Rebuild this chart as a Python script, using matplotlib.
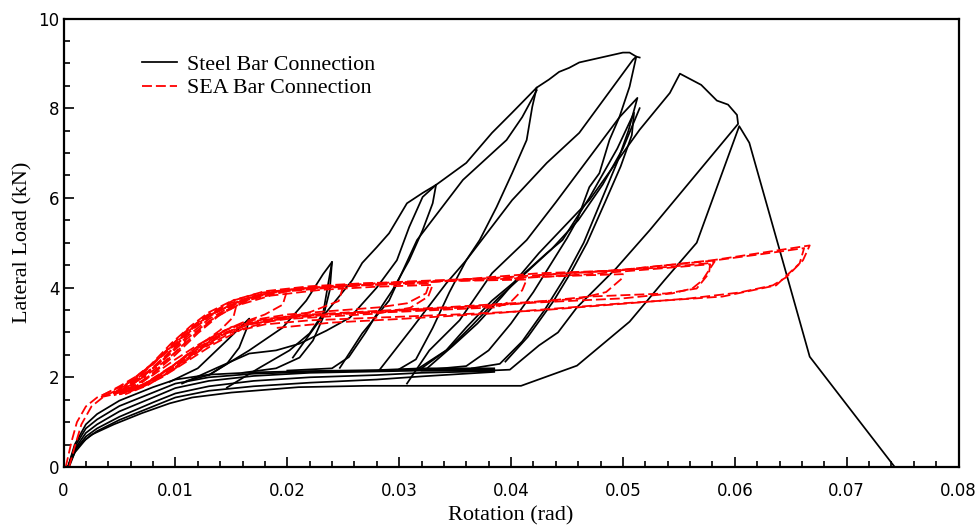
import numpy as np
import matplotlib
matplotlib.use("Agg")
import matplotlib.pyplot as plt
from matplotlib.ticker import MultipleLocator

# Steel bar connection: loading from origin into the slip plateau
steel_early_rot = [0.0004, 0.001, 0.002, 0.003, 0.005, 0.008, 0.010, 0.013, 0.017, 0.022, 0.028, 0.032, 0.0385]
steel_early1_load = [0, 0.50, 0.95, 1.18, 1.48, 1.78, 1.95, 2.06, 2.11, 2.14, 2.16, 2.20, 2.20]
steel_early2_load = [0, 0.45, 0.86, 1.06, 1.36, 1.66, 1.86, 2.00, 2.08, 2.12, 2.15, 2.18, 2.17]
steel_early3_load = [0, 0.40, 0.76, 0.95, 1.24, 1.55, 1.76, 1.92, 2.03, 2.10, 2.13, 2.15, 2.16]
steel_early4_load = [0, 0.36, 0.68, 0.86, 1.12, 1.44, 1.64, 1.80, 1.92, 2.00, 2.05, 2.10, 2.14]
steel_early5_load = [0, 0.32, 0.62, 0.80, 1.05, 1.35, 1.55, 1.70, 1.80, 1.88, 1.95, 2.02, 2.12]

# cycle to 0.0167 rad
steel_c1_rot = [0.0095, 0.012, 0.0146, 0.0166, 0.0164, 0.0157, 0.0146, 0.013, 0.011]
steel_c1_load = [1.90, 2.20, 2.82, 3.31, 3.10, 2.66, 2.30, 2.05, 1.92]

# cycles to 0.024 rad
steel_c2a_rot = [0.0146, 0.0175, 0.0202, 0.022, 0.0232, 0.0236, 0.024]
steel_c2a_load = [1.77, 2.21, 2.60, 2.98, 3.42, 4.00, 4.57]
steel_c2b_rot = [0.013, 0.0166, 0.0196, 0.0217, 0.0232, 0.024, 0.0238, 0.0232, 0.0223, 0.0211, 0.019, 0.016]
steel_c2b_load = [2.05, 2.60, 3.11, 3.71, 4.30, 4.57, 3.94, 3.33, 2.82, 2.44, 2.20, 2.10]

# cycles to 0.0333 rad
steel_c3a_rot = [0.0205, 0.0229, 0.0258, 0.0267, 0.028, 0.0291, 0.0307, 0.0321, 0.0333,
                 0.033, 0.0321, 0.0309, 0.0294, 0.0282, 0.027, 0.0255, 0.024, 0.020]
steel_c3a_load = [2.44, 3.27, 4.16, 4.55, 4.90, 5.21, 5.88, 6.11, 6.29,
                  5.88, 5.28, 4.61, 3.94, 3.49, 3.00, 2.45, 2.20, 2.15]
steel_c3b_rot = [0.0106, 0.0137, 0.0166, 0.019, 0.0211, 0.0235, 0.0256, 0.028, 0.0298, 0.0309, 0.0321, 0.0333]
steel_c3b_load = [1.86, 2.21, 2.53, 2.60, 2.75, 3.04, 3.33, 4.00, 4.61, 5.35, 6.02, 6.29]

# cycles to 0.0423 rad
steel_c4a_rot = [0.0333, 0.036, 0.0383, 0.0401, 0.0423, 0.0419, 0.0414, 0.0401, 0.0387, 0.0372,
                 0.036, 0.0345, 0.033, 0.0315, 0.030]
steel_c4a_load = [6.29, 6.78, 7.45, 7.90, 8.46, 8.03, 7.29, 6.55, 5.79, 5.06,
                  4.61, 3.90, 3.10, 2.40, 2.18]
steel_c4b_rot = [0.0247, 0.0267, 0.0291, 0.0316, 0.0357, 0.0396, 0.041, 0.0423]
steel_c4b_load = [2.21, 2.98, 3.71, 5.06, 6.40, 7.29, 7.80, 8.40]

# cycles to 0.051 rad
steel_c5a_rot = [0.0282, 0.0312, 0.0342, 0.036, 0.0401, 0.0432, 0.0461, 0.0509, 0.0512,
                 0.0506, 0.0497, 0.0488, 0.0479, 0.047, 0.0459, 0.045, 0.0435, 0.042, 0.040, 0.038, 0.036, 0.033]
steel_c5a_load = [2.15, 3.11, 4.09, 4.61, 5.95, 6.78, 7.45, 9.08, 9.15,
                  8.48, 7.81, 7.29, 6.55, 6.24, 5.50, 5.10, 4.50, 3.90, 3.20, 2.60, 2.25, 2.18]
steel_env5_rot = [0.0423, 0.0434, 0.0443, 0.0452, 0.0461, 0.050, 0.0506, 0.0512, 0.0515]
steel_env5_load = [8.46, 8.64, 8.81, 8.90, 9.02, 9.24, 9.24, 9.15, 9.13]
steel_c5b_rot = [0.0307, 0.0327, 0.0354, 0.0383, 0.0414, 0.044, 0.047, 0.0497, 0.0513,
                 0.0505, 0.0495, 0.048, 0.0465, 0.045, 0.043, 0.041, 0.039, 0.0365]
steel_c5b_load = [1.86, 2.60, 3.27, 4.32, 5.06, 5.90, 6.90, 7.80, 8.23,
                  7.50, 6.80, 5.90, 5.00, 4.30, 3.50, 2.80, 2.30, 2.20]
steel_c5c_rot = [0.0318, 0.0342, 0.036, 0.0383, 0.0408, 0.0432, 0.0446, 0.047, 0.0495, 0.051,
                 0.0508, 0.0498, 0.0484, 0.0468, 0.0455, 0.0438, 0.0415, 0.0395]
steel_c5c_load = [2.21, 2.60, 3.11, 3.71, 4.23, 4.77, 5.06, 6.00, 7.10, 7.90,
                  7.40, 6.70, 5.90, 5.00, 4.40, 3.70, 2.90, 2.35]
steel_c5d_rot = [0.032, 0.0345, 0.0365, 0.0388, 0.0412, 0.0436, 0.046, 0.0482, 0.050, 0.0515]
steel_c5d_load = [2.20, 2.65, 3.15, 3.75, 4.30, 4.85, 5.50, 6.30, 7.10, 8.00]

# cycle to 0.055 rad and return
steel_c6_rot = [0.0325, 0.0348, 0.037, 0.0392, 0.0425, 0.047, 0.0515, 0.0542, 0.0551,
                0.057, 0.0584, 0.0594, 0.0602, 0.0603, 0.0524, 0.0494, 0.0459, 0.0442,
                0.0425, 0.0399, 0.0381, 0.032]
steel_c6_load = [2.20, 2.70, 3.20, 3.80, 4.77, 5.95, 7.52, 8.34, 8.77,
                 8.52, 8.17, 8.08, 7.85, 7.65, 5.28, 4.43, 3.56, 3.00,
                 2.71, 2.17, 2.15, 2.15]

# last cycle and failure
steel_final_rot = [0.0005, 0.0012, 0.0025, 0.0045, 0.007, 0.0095, 0.0115, 0.015, 0.021, 0.027,
                   0.0381, 0.0409, 0.0459, 0.0506, 0.0537, 0.0566, 0.0604, 0.0613, 0.0646,
                   0.0667, 0.0743]
steel_final_load = [0, 0.45, 0.72, 0.95, 1.20, 1.42, 1.55, 1.66, 1.78, 1.81,
                    1.81, 1.81, 2.26, 3.24, 4.16, 5.00, 7.60, 7.23, 4.32,
                    2.46, 0]

# SEA bar connection loops
sea_c1_rot = [0.0002, 0.0007, 0.0012, 0.002, 0.003, 0.0045, 0.006, 0.0075, 0.0072, 0.006, 0.0045, 0.0032]
sea_c1_load = [0.0, 0.55, 1.00, 1.35, 1.55, 1.72, 1.90, 2.12, 1.95, 1.75, 1.62, 1.55]
sea_c2_rot = [0.0005, 0.001, 0.0016, 0.0025, 0.0035, 0.005, 0.0068, 0.0085, 0.010, 0.0112,
              0.0108, 0.0095, 0.008, 0.0062, 0.0045, 0.0035]
sea_c2_load = [0.0, 0.45, 0.95, 1.35, 1.55, 1.75, 1.98, 2.30, 2.70, 3.00,
               2.75, 2.45, 2.15, 1.85, 1.65, 1.58]
sea_c3_rot = [0.0035, 0.005, 0.0065, 0.008, 0.0095, 0.011, 0.0125, 0.014, 0.0155,
              0.0152, 0.014, 0.0125, 0.011, 0.0095, 0.008, 0.0062, 0.0045]
sea_c3_load = [1.60, 1.80, 2.02, 2.30, 2.62, 2.98, 3.28, 3.50, 3.65,
               3.35, 3.05, 2.78, 2.50, 2.20, 1.95, 1.72, 1.60]
sea_c4_rot = [0.0045, 0.0062, 0.008, 0.0098, 0.0115, 0.013, 0.015, 0.0172, 0.020,
              0.0196, 0.018, 0.016, 0.014, 0.012, 0.010, 0.008, 0.006, 0.0045]
sea_c4_load = [1.65, 1.95, 2.30, 2.72, 3.10, 3.38, 3.62, 3.82, 3.95,
               3.62, 3.40, 3.22, 3.00, 2.72, 2.40, 2.05, 1.78, 1.62]
sea_c5_rot = [0.0045, 0.006, 0.0078, 0.0096, 0.0114, 0.013, 0.015, 0.0175, 0.021, 0.025,
              0.0246, 0.022, 0.019, 0.016, 0.0135, 0.011, 0.0088, 0.0068, 0.005]
sea_c5_load = [1.62, 1.92, 2.28, 2.75, 3.15, 3.45, 3.70, 3.88, 3.98, 4.03,
               3.70, 3.45, 3.28, 3.08, 2.75, 2.35, 2.00, 1.75, 1.62]
sea_c6_rot = [0.005, 0.0068, 0.0085, 0.0105, 0.0125, 0.015, 0.018, 0.022, 0.027, 0.0327,
              0.0324, 0.0307, 0.0282, 0.024, 0.020, 0.017, 0.0145, 0.012, 0.0095, 0.0072, 0.0052]
sea_c6_load = [1.65, 2.02, 2.42, 2.92, 3.32, 3.66, 3.88, 4.00, 4.06, 4.09,
               3.87, 3.65, 3.56, 3.48, 3.40, 3.28, 3.05, 2.65, 2.22, 1.85, 1.65]
sea_c7_rot = [0.005, 0.007, 0.009, 0.011, 0.013, 0.0155, 0.0185, 0.023, 0.028, 0.033,
              0.0326, 0.031, 0.028, 0.024, 0.020, 0.0165, 0.014, 0.0115, 0.009, 0.0068, 0.005]
sea_c7_load = [1.62, 2.00, 2.40, 2.85, 3.25, 3.60, 3.82, 3.95, 4.02, 4.06,
               3.80, 3.55, 3.42, 3.36, 3.30, 3.18, 2.95, 2.55, 2.12, 1.78, 1.62]
sea_c8_rot = [0.005, 0.0068, 0.0088, 0.0108, 0.0128, 0.0152, 0.018, 0.022, 0.027, 0.033, 0.0375, 0.0414,
              0.041, 0.0401, 0.0387, 0.035, 0.030, 0.025, 0.020, 0.017, 0.0145, 0.012, 0.0095, 0.007, 0.005]
sea_c8_load = [1.68, 2.05, 2.50, 3.00, 3.38, 3.72, 3.92, 4.03, 4.10, 4.14, 4.16, 4.18,
               3.94, 3.71, 3.56, 3.52, 3.46, 3.42, 3.36, 3.22, 3.00, 2.60, 2.15, 1.80, 1.65]
sea_c9_rot = [0.005, 0.007, 0.009, 0.011, 0.013, 0.0155, 0.0185, 0.023, 0.030, 0.038, 0.045, 0.050,
              0.0499, 0.0485, 0.046, 0.040, 0.034, 0.028, 0.022, 0.018, 0.015, 0.0125, 0.010, 0.0075, 0.0052]
sea_c9_load = [1.62, 2.00, 2.42, 2.90, 3.30, 3.65, 3.88, 4.00, 4.10, 4.20, 4.26, 4.30,
               4.20, 3.90, 3.75, 3.65, 3.56, 3.48, 3.40, 3.30, 3.12, 2.78, 2.30, 1.88, 1.65]
sea_c10_rot = [0.0052, 0.0072, 0.0092, 0.0112, 0.0132, 0.0158, 0.019, 0.024, 0.031, 0.0381, 0.0425,
               0.0494, 0.054, 0.0575, 0.0582, 0.0577, 0.0571, 0.0562, 0.0544, 0.050, 0.0425, 0.035,
               0.028, 0.022, 0.018, 0.0155, 0.013, 0.0105, 0.008, 0.0058]
sea_c10_load = [1.65, 2.05, 2.50, 3.00, 3.38, 3.72, 3.92, 4.04, 4.14, 4.21, 4.28,
                4.38, 4.46, 4.54, 4.58, 4.39, 4.16, 3.98, 3.87, 3.76, 3.67, 3.56,
                3.46, 3.38, 3.28, 3.10, 2.78, 2.35, 1.95, 1.68]
sea_c11_rot = [0.006, 0.008, 0.010, 0.012, 0.014, 0.0165, 0.020, 0.026, 0.033, 0.040, 0.047, 0.053, 0.0578,
               0.0577, 0.0566, 0.0539, 0.047, 0.0381, 0.031, 0.025, 0.020, 0.0165, 0.014, 0.0115, 0.009, 0.0065]
sea_c11_load = [1.70, 2.10, 2.55, 3.02, 3.42, 3.75, 3.93, 4.05, 4.13, 4.20, 4.30, 4.42, 4.52,
                4.32, 3.98, 3.87, 3.80, 3.58, 3.50, 3.42, 3.32, 3.18, 2.92, 2.50, 2.05, 1.75]
sea_c12_rot = [0.006, 0.008, 0.010, 0.012, 0.014, 0.0165, 0.020, 0.026, 0.033, 0.0425, 0.0494, 0.058,
               0.0625, 0.0667, 0.0661, 0.0646, 0.0634, 0.0604, 0.056, 0.0515, 0.0425, 0.035, 0.028,
               0.022, 0.018, 0.015, 0.0125, 0.010, 0.0075, 0.0055]
sea_c12_load = [1.68, 2.08, 2.50, 2.98, 3.40, 3.72, 3.92, 4.04, 4.13, 4.32, 4.38, 4.61,
                4.78, 4.94, 4.61, 4.23, 4.05, 3.89, 3.76, 3.67, 3.49, 3.40, 3.33,
                3.27, 3.18, 3.00, 2.65, 2.20, 1.82, 1.62]
sea_c13_rot = [0.0425, 0.050, 0.058, 0.0625, 0.0662, 0.0658, 0.0637, 0.0589, 0.050, 0.0381, 0.030, 0.024, 0.019]
sea_c13_load = [4.28, 4.40, 4.60, 4.75, 4.88, 4.54, 4.05, 3.80, 3.65, 3.42, 3.30, 3.22, 3.10]

steel_paths = [
    (steel_early_rot, steel_early1_load), (steel_early_rot, steel_early2_load),
    (steel_early_rot, steel_early3_load), (steel_early_rot, steel_early4_load),
    (steel_early_rot, steel_early5_load),
    (steel_c1_rot, steel_c1_load), (steel_c2a_rot, steel_c2a_load), (steel_c2b_rot, steel_c2b_load),
    (steel_c3a_rot, steel_c3a_load), (steel_c3b_rot, steel_c3b_load),
    (steel_c4a_rot, steel_c4a_load), (steel_c4b_rot, steel_c4b_load),
    (steel_c5a_rot, steel_c5a_load), (steel_env5_rot, steel_env5_load),
    (steel_c5b_rot, steel_c5b_load), (steel_c5c_rot, steel_c5c_load), (steel_c5d_rot, steel_c5d_load),
    (steel_c6_rot, steel_c6_load), (steel_final_rot, steel_final_load),
]
sea_paths = [
    (sea_c1_rot, sea_c1_load), (sea_c2_rot, sea_c2_load), (sea_c3_rot, sea_c3_load),
    (sea_c4_rot, sea_c4_load), (sea_c5_rot, sea_c5_load), (sea_c6_rot, sea_c6_load),
    (sea_c7_rot, sea_c7_load), (sea_c8_rot, sea_c8_load), (sea_c9_rot, sea_c9_load),
    (sea_c10_rot, sea_c10_load), (sea_c11_rot, sea_c11_load), (sea_c12_rot, sea_c12_load),
    (sea_c13_rot, sea_c13_load),
]

x_ticks = [0, 0.01, 0.02, 0.03, 0.04, 0.05, 0.06, 0.07, 0.08]
x_tick_labels = ["0", "0.01", "0.02", "0.03", "0.04", "0.05", "0.06", "0.07", "0.08"]
y_ticks = [0, 2, 4, 6, 8, 10]
y_tick_labels = ["0", "2", "4", "6", "8", "10"]

#------------------------------ plotting ------------------------------
serif = "Liberation Serif"

fig = plt.figure(figsize=(9.8, 5.26), dpi=100)
ax = fig.add_axes([63.5 / 980, 59 / 526, 895 / 980, 448.5 / 526])

for i, (rot, load) in enumerate(steel_paths):
    ax.plot(rot, load, color="black", lw=1.25,
            label="Steel Bar Connection" if i == 0 else None)
for i, (rot, load) in enumerate(sea_paths):
    ax.plot(rot, load, color="red", lw=1.3, linestyle=(0, (5.5, 2.2)),
            label="SEA Bar Connection" if i == 0 else None)

ax.set_xlim(0, 0.08)
ax.set_ylim(0, 10)
ax.set_xticks(x_ticks)
ax.set_xticklabels(x_tick_labels)
ax.set_yticks(y_ticks)
ax.set_yticklabels(y_tick_labels)
ax.xaxis.set_minor_locator(MultipleLocator(0.002))
ax.yaxis.set_minor_locator(MultipleLocator(0.5))
ax.tick_params(which="both", direction="in", top=False, right=False,
               labelsize=12, width=1.2)
ax.tick_params(which="major", length=7)
ax.tick_params(which="minor", length=4)
ax.tick_params(axis="x", which="both", pad=11)
ax.tick_params(axis="y", which="both", pad=3)
for lab in ax.get_xticklabels() + ax.get_yticklabels():
    lab.set_family("DejaVu Sans")
for sp in ax.spines.values():
    sp.set_linewidth(1.6)

ax.set_xlabel("Rotation (rad)", family=serif, fontsize=16, labelpad=4)
ax.set_ylabel("Lateral Load (kN)", family=serif, fontsize=16, labelpad=4)

ax.legend(loc="upper left", bbox_to_anchor=(0.088, 0.92), frameon=False,
          prop={"family": serif, "size": 15.8}, handlelength=1.6,
          handletextpad=0.45, labelspacing=0.15, borderpad=0, borderaxespad=0)

fig.savefig("out.png", dpi=100)
